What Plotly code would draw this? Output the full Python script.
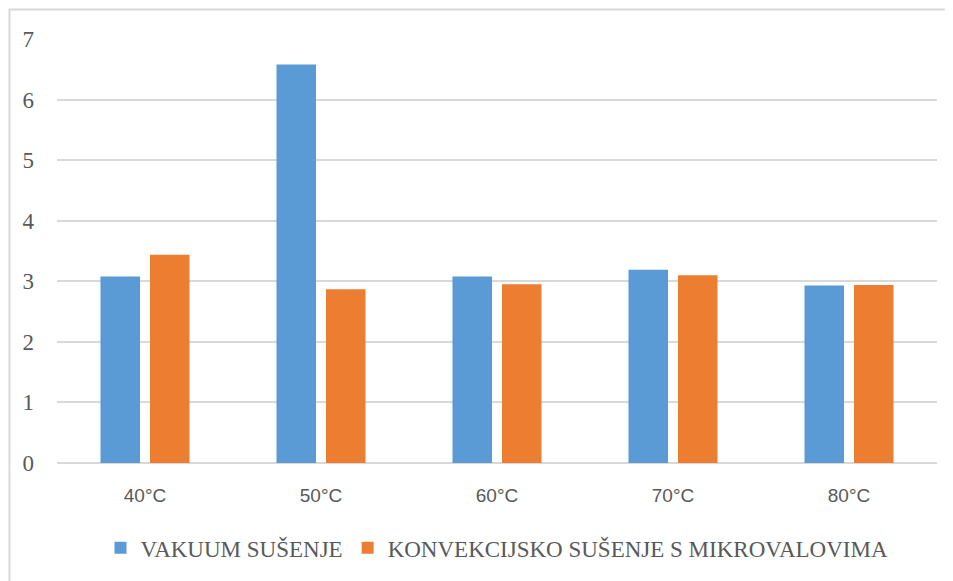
import plotly.graph_objects as go

categories = ["40°C", "50°C", "60°C", "70°C", "80°C"]
vakuum = [3.08, 6.58, 3.08, 3.19, 2.93]
konvekcijsko = [3.44, 2.87, 2.95, 3.10, 2.94]
series_names = ["VAKUUM SUŠENJE", "KONVEKCIJSKO SUŠENJE S MIKROVALOVIMA"]
y_ticks = [0, 1, 2, 3, 4, 5, 6, 7]

SERIF = "Liberation Serif"
SANS = "Liberation Sans"
TXT = "#595959"
GRID = "#d9d9d9"

fig = go.Figure()
fig.add_trace(go.Bar(x=categories, y=vakuum, name=series_names[0],
                     marker=dict(color="#5b9bd5", line=dict(width=0))))
fig.add_trace(go.Bar(x=categories, y=konvekcijsko, name=series_names[1],
                     marker=dict(color="#ed7d31", line=dict(width=0))))

fig.update_layout(
    width=945, height=573,
    margin=dict(l=49, r=16, t=31, b=109),
    paper_bgcolor="white", plot_bgcolor="white",
    barmode="group", bargap=0.4375, bargroupgap=0.202,
    font=dict(family=SERIF, size=21, color=TXT),
    showlegend=True,
    legend=dict(orientation="h", x=0.5, xanchor="center", y=-0.2, yanchor="middle",
                font=dict(family=SERIF, size=23, color=TXT), itemwidth=30,
                bgcolor="rgba(0,0,0,0)"),
    xaxis=dict(showgrid=False, showline=False, zeroline=False, ticks="",
               ticklabelstandoff=19, tickfont=dict(family=SANS, size=19, color=TXT)),
    yaxis=dict(range=[0, 7], tickvals=y_ticks, showgrid=True, gridcolor=GRID, gridwidth=1.5,
               zeroline=True, zerolinecolor=GRID, zerolinewidth=1.5, showline=False,
               ticks="", ticklabelstandoff=22,
               tickfont=dict(family=SERIF, size=23, color=TXT)),
    shapes=[
        dict(type="rect", xref="paper", yref="paper",
             x0=-0.054, x1=1.03, y0=-0.3, y1=1.0694,
             line=dict(color=GRID, width=2), fillcolor="rgba(0,0,0,0)", layer="below"),
    ],
)

fig.write_html("out.html")
